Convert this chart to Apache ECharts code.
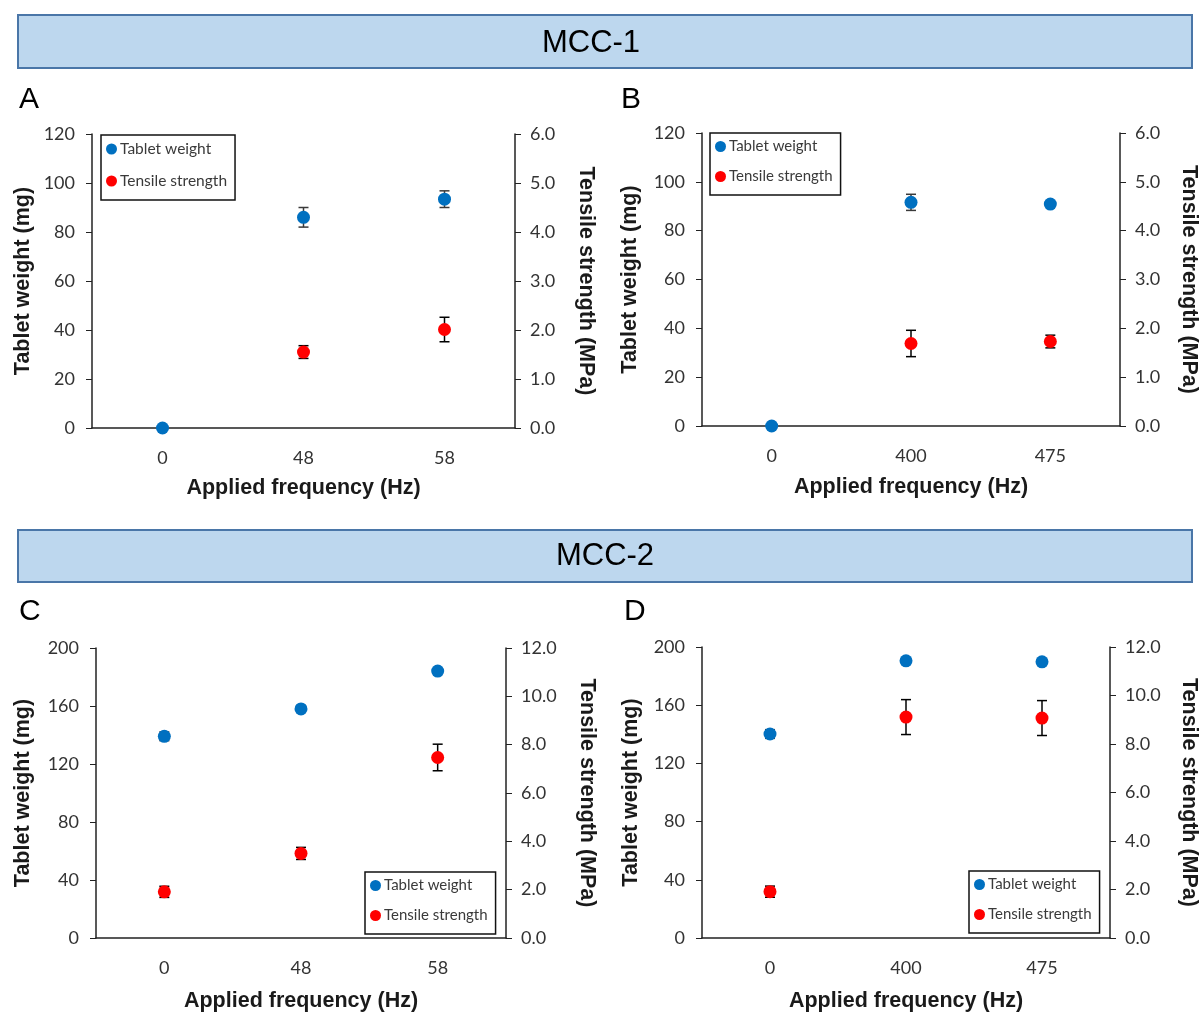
<!DOCTYPE html>
<html><head><meta charset="utf-8">
<script src="https://cdn.jsdelivr.net/npm/echarts@6/dist/echarts.min.js"></script>
<style>html,body{margin:0;padding:0;background:#fff}#c{width:1201px;height:1013px}</style>
</head><body><div id="c"></div>
<script>
// ---------- DATA ----------
const catsA = ['0', '48', '58'];
const catsB = ['0', '400', '475'];
const catsC = ['0', '48', '58'];
const catsD = ['0', '400', '475'];

const weightA = [0, 86.0, 93.4];
const weightErrA = [0, 4.0, 3.4];
const tensileA = ['-', 1.55, 2.01];
const tensileErrA = [0, 0.13, 0.25];

const weightB = [0, 91.6, 90.9];
const weightErrB = [0, 3.3, 1.0];
const tensileB = ['-', 1.69, 1.73];
const tensileErrB = [0, 0.27, 0.13];

const weightC = [139.1, 158.0, 184.1];
const weightErrC = [3.0, 1.5, 1.5];
const tensileC = [1.91, 3.50, 7.47];
const tensileErrC = [0.23, 0.25, 0.55];

const weightD = [140.2, 190.5, 189.8];
const weightErrD = [3.0, 1.5, 1.5];
const tensileD = [1.91, 9.11, 9.07];
const tensileErrD = [0.23, 0.72, 0.72];

const weightAxisTop = [120, 120, 200, 200];
const weightAxisStep = [20, 20, 40, 40];
const tensileAxisTop = [6, 6, 12, 12];
const tensileAxisStep = [1, 1, 2, 2];

const headerTexts = ['MCC-1', 'MCC-2'];
const panelLetters = ['A', 'B', 'C', 'D'];
const seriesNames = ['Tablet weight', 'Tensile strength'];
const xTitle = 'Applied frequency (Hz)';
const yLeftTitle = 'Tablet weight (mg)';
const yRightTitle = 'Tensile strength (MPa)';

// ---------- LAYOUT ----------
const panels = [
  {cats: catsA, w: weightA, we: weightErrA, t: tensileA, te: tensileErrA,
   grid: {left: 92, top: 134, width: 423, height: 294},
   lgap: 58, rgap: 60, xgap: 49, legend: {left: 101, top: 135}, lfs: 15.5, lig: 16},
  {cats: catsB, w: weightB, we: weightErrB, t: tensileB, te: tensileErrB,
   grid: {left: 702, top: 133, width: 420, height: 293},
   lgap: 61, rgap: 58, xgap: 50, legend: {left: 710, top: 133}, lfs: 15, lig: 15},
  {cats: catsC, w: weightC, we: weightErrC, t: tensileC, te: tensileErrC,
   grid: {left: 96, top: 648, width: 410, height: 293},
   lgap: 62, rgap: 70, xgap: 52, legend: {left: 365, top: 872}, lfs: 15, lig: 15},
  {cats: catsD, w: weightD, we: weightErrD, t: tensileD, te: tensileErrD,
   grid: {left: 702, top: 647, width: 409, height: 293},
   lgap: 60, rgap: 68, xgap: 52, legend: {left: 969, top: 871}, lfs: 15, lig: 15}
];

const BLUE = '#0070C0', RED = '#FF0000';
const labelColor = '#333';
const lineColor = '#222';
const FONT = 'Lato';
const TITLE_FONT = 'Liberation Sans';
const TITLE_SIZE = 21.5;

function errRender(params, api) {
  const i = api.value(0), lo = api.value(1), hi = api.value(2);
  const top = api.coord([i, hi]);
  const bot = api.coord([i, lo]);
  const w = 5;
  const style = {stroke: api.visual('color'), lineWidth: 1.5};
  return {type: 'group', children: [
    {type: 'line', shape: {x1: top[0], y1: top[1], x2: bot[0], y2: bot[1]}, style: style},
    {type: 'line', shape: {x1: top[0] - w, y1: top[1], x2: top[0] + w, y2: top[1]}, style: style},
    {type: 'line', shape: {x1: bot[0] - w, y1: bot[1], x2: bot[0] + w, y2: bot[1]}, style: style}
  ]};
}
function errData(vals, errs) {
  const out = [];
  vals.forEach((v, i) => {
    if (v === '-' || !errs[i]) return;
    out.push([i, v - errs[i], v + errs[i]]);
  });
  return out;
}

const grids = [], xAxes = [], yAxes = [], series = [], legends = [];
panels.forEach((p, k) => {
  grids.push(Object.assign({containLabel: false}, p.grid));
  const nameStyle = {fontSize: TITLE_SIZE, fontWeight: 'bold', color: '#1a1a1a', fontFamily: TITLE_FONT};
  xAxes.push({
    type: 'category', gridIndex: k, data: p.cats, boundaryGap: true,
    axisLine: {lineStyle: {color: lineColor, width: 1.5}},
    axisTick: {alignWithLabel: true, length: 5, lineStyle: {color: lineColor}},
    axisLabel: {margin: 21, fontSize: 18, color: labelColor, fontFamily: FONT},
    name: xTitle, nameLocation: 'middle', nameGap: p.xgap, nameTextStyle: nameStyle
  });
  yAxes.push({
    type: 'value', gridIndex: k, position: 'left',
    min: 0, max: weightAxisTop[k], interval: weightAxisStep[k],
    axisLine: {show: true, lineStyle: {color: lineColor, width: 1.5}},
    axisTick: {show: true, length: 6, lineStyle: {color: lineColor}},
    splitLine: {show: false},
    axisLabel: {margin: 17, fontSize: 18, color: labelColor, fontFamily: FONT},
    name: yLeftTitle, nameLocation: 'middle', nameRotate: 90, nameGap: p.lgap, nameTextStyle: nameStyle
  });
  yAxes.push({
    type: 'value', gridIndex: k, position: 'right',
    min: 0, max: tensileAxisTop[k], interval: tensileAxisStep[k],
    axisLine: {show: true, lineStyle: {color: lineColor, width: 1.5}},
    axisTick: {show: true, length: 6, lineStyle: {color: lineColor}},
    splitLine: {show: false},
    axisLabel: {margin: 15, fontSize: 18, color: labelColor, fontFamily: FONT,
                formatter: v => v.toFixed(1)},
    name: yRightTitle, nameLocation: 'middle', nameRotate: -90, nameGap: p.rgap, nameTextStyle: nameStyle
  });
  const yl = 2 * k, yr = 2 * k + 1;
  series.push({
    type: 'custom', name: 'wErr' + k, xAxisIndex: k, yAxisIndex: yl,
    renderItem: errRender, itemStyle: {color: '#3a3a3a'},
    encode: {x: 0, y: [1, 2]}, data: errData(p.w, p.we), z: 2, silent: true
  });
  series.push({
    type: 'custom', name: 'tErr' + k, xAxisIndex: k, yAxisIndex: yr,
    renderItem: errRender, itemStyle: {color: '#000'},
    encode: {x: 0, y: [1, 2]}, data: errData(p.t, p.te), z: 2, silent: true
  });
  series.push({
    type: 'scatter', name: seriesNames[0], xAxisIndex: k, yAxisIndex: yl,
    data: p.w, symbol: 'circle', symbolSize: 13, clip: false,
    itemStyle: {color: BLUE, opacity: 1}, z: 3
  });
  series.push({
    type: 'scatter', name: seriesNames[1], xAxisIndex: k, yAxisIndex: yr,
    data: p.t, symbol: 'circle', symbolSize: 13, clip: false,
    itemStyle: {color: RED, opacity: 1}, z: 3
  });
  legends.push({
    left: p.legend.left, top: p.legend.top, orient: 'vertical',
    data: seriesNames.map(n => ({name: n, icon: 'circle'})),
    itemWidth: 11, itemHeight: 11, itemGap: p.lig,
    padding: [6, 8, 11, 5],
    borderColor: '#111', borderWidth: 1.5,
    selectedMode: false,
    itemStyle: {opacity: 1},
    textStyle: {fontSize: p.lfs, color: '#3a3a3a', fontFamily: FONT, padding: [0, 0, 0, -2]}
  });
});

const graphics = [
  {type: 'rect', shape: {x: 18, y: 15, width: 1174, height: 53},
   style: {fill: '#BDD7EE', stroke: '#4A76A8', lineWidth: 2}},
  {type: 'text', x: 591, y: 43, style: {text: headerTexts[0], font: '31px "Liberation Sans"',
   fill: '#000', textAlign: 'center', textVerticalAlign: 'middle'}},
  {type: 'rect', shape: {x: 18, y: 530, width: 1174, height: 52},
   style: {fill: '#BDD7EE', stroke: '#4A76A8', lineWidth: 2}},
  {type: 'text', x: 605, y: 556, style: {text: headerTexts[1], font: '31px "Liberation Sans"',
   fill: '#000', textAlign: 'center', textVerticalAlign: 'middle'}},
  {type: 'text', x: 19, y: 100, style: {text: panelLetters[0], font: '30px "Liberation Sans"', fill: '#000', textVerticalAlign: 'middle'}},
  {type: 'text', x: 621, y: 100, style: {text: panelLetters[1], font: '30px "Liberation Sans"', fill: '#000', textVerticalAlign: 'middle'}},
  {type: 'text', x: 19, y: 612, style: {text: panelLetters[2], font: '30px "Liberation Sans"', fill: '#000', textVerticalAlign: 'middle'}},
  {type: 'text', x: 624, y: 612, style: {text: panelLetters[3], font: '30px "Liberation Sans"', fill: '#000', textVerticalAlign: 'middle'}}
];

const chart = echarts.init(document.getElementById('c'), null, {renderer: 'canvas'});
chart.setOption({
  animation: false,
  backgroundColor: '#fff',
  grid: grids, xAxis: xAxes, yAxis: yAxes, series: series, legend: legends,
  graphic: graphics
});
</script></body></html>
